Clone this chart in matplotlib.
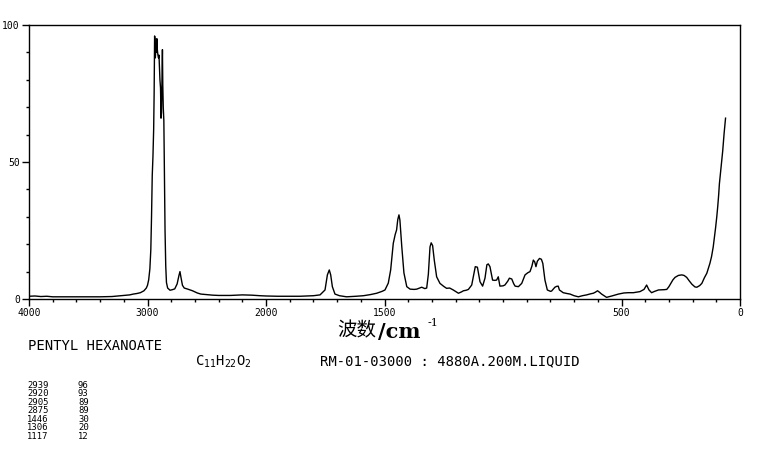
import numpy as np
import matplotlib
matplotlib.use("Agg")
import matplotlib.pyplot as plt

# ---- data ----
wavenumber = [4000, 3950, 3900, 3850, 3800, 3700, 3600, 3500, 3400, 3300, 3250, 3200, 3150, 3120,
              3090, 3060, 3030, 3010, 3000, 2990, 2980, 2972, 2966, 2960, 2954, 2948, 2944, 2940,
              2937, 2934, 2930, 2926, 2921, 2917, 2912, 2907, 2903, 2899, 2895, 2890, 2886, 2882,
              2877, 2874, 2871, 2867, 2862, 2857, 2852, 2846, 2840, 2830, 2810, 2790, 2770, 2750,
              2735, 2726, 2718, 2705, 2690, 2660, 2620, 2580, 2550, 2500, 2450, 2400, 2300, 2200,
              2120, 2050, 2000, 1950, 1900, 1857, 1800, 1772, 1751, 1741, 1733, 1727, 1720, 1709,
              1690, 1660, 1620, 1589, 1560, 1533, 1510, 1498, 1484, 1474, 1463, 1455, 1449, 1444,
              1439, 1435, 1427, 1418, 1406, 1392, 1375, 1364, 1343, 1330, 1322, 1315, 1308, 1303,
              1297, 1290, 1280, 1266, 1250, 1238, 1225, 1210, 1195, 1188, 1175, 1167, 1155, 1146,
              1132, 1122, 1117, 1108, 1097, 1086, 1076, 1068, 1062, 1055, 1044, 1035, 1027, 1020,
              1013, 1000, 992, 980, 973, 963, 955, 949, 935, 921, 907, 895, 886, 878, 872, 866,
              861, 855, 846, 838, 832, 823, 813, 800, 795, 781, 774, 767, 762, 746, 730, 717, 700,
              682, 665, 647, 630, 619, 610, 601, 592, 584, 570, 563, 550, 541, 513, 490, 471, 450,
              422, 405, 398, 394, 389, 384, 373, 360, 344, 320, 309, 300, 292, 283, 274, 260, 246,
              236, 225, 214, 203, 190, 182, 170, 161, 150, 140, 127, 120, 113, 108, 103, 98, 94,
              90, 87, 80, 73, 67, 61]
intensity = [1.0, 1.1, 0.9, 1.0, 0.8, 0.8, 0.8, 0.8, 0.8, 0.9, 1.1, 1.3, 1.5, 1.8,
             2.0, 2.3, 3.0, 4.0, 5.0, 7.0, 11, 18, 30, 45, 52, 62, 75, 96,
             95, 88, 91, 90, 95, 91, 89, 88, 89, 84, 80, 77, 66, 68,
             82, 91, 78, 70, 65, 45, 25, 12, 6, 4.0, 3.2, 3.4, 3.7, 5.5,
             8.5, 10.0, 8.0, 5.0, 4.0, 3.6, 3.0, 2.2, 1.8, 1.6, 1.4, 1.3, 1.3, 1.5,
             1.4, 1.2, 1.1, 1.0, 1.0, 1.0, 1.2, 1.5, 3.3, 8.8, 10.6, 8.8, 4.5, 1.8,
             1.2, 0.8, 1.0, 1.2, 1.6, 2.1, 2.8, 3.3, 5.8, 10.6, 20.3, 23.5, 25.2, 29,
             30.7, 28.8, 19, 9.5, 4.5, 3.6, 3.5, 3.6, 4.3, 3.8, 4.0, 9, 19, 20.5,
             19.5, 14.2, 8.1, 5.7, 4.6, 3.9, 4.0, 3.3, 2.5, 2.1, 2.6, 3.0, 3.2, 3.5,
             5.1, 9.5, 11.8, 11.6, 6.3, 4.7, 7.6, 12.5, 12.8, 11.8, 6.9, 6.8, 6.9, 8.1,
             4.7, 4.8, 5.1, 6.5, 7.6, 7.3, 5.6, 4.7, 4.5, 5.7, 8.8, 9.6, 10, 12, 14.2, 13.5,
             11.8, 13.8, 14.8, 14.5, 13, 6.9, 3.3, 2.8, 2.9, 4.3, 4.6, 4.7, 3.3, 2.3, 2.0, 1.8, 1.2,
             0.8, 1.2, 1.5, 1.9, 2.1, 2.5, 3.0, 2.4, 1.8, 1.0, 0.6, 0.9, 1.1, 1.8, 2.2, 2.3, 2.3,
             2.7, 3.5, 4.5, 5.1, 4.2, 3.3, 2.3, 2.8, 3.3, 3.4, 3.5, 4.5, 5.7, 7.0, 7.9, 8.6, 8.8,
             8.6, 7.9, 6.6, 5.4, 4.4, 4.3, 4.9, 5.7, 7.8, 9.4, 13, 15.5, 19, 22.5, 26, 30, 33.7,
             38, 42, 48, 54, 60.5, 66]

x_major = [4000, 3000, 2000, 1500, 500, 0]
x_major_labels = ["4000", "3000", "2000", "1500", "500", "0"]
y_major = [0, 50, 100]
y_major_labels = ["0", "50", "100"]

peak_pos = ["2939", "2920", "2905", "2875", "1446", "1306", "1117"]
peak_int = ["96", "93", "89", "89", "30", "20", "12"]

title = "PENTYL HEXANOATE"
formula = r"$\mathregular{C_{11}H_{22}O_{2}}$"
sample = "RM-01-03000 : 4880A.200M.LIQUID"

# ---- figure ----
W, H = 765, 470
fig = plt.figure(figsize=(W / 100, H / 100), dpi=100)
ax = fig.add_axes([29 / W, 1 - 299 / H, (740 - 29) / W, (299 - 25) / H])


def fwd(w):
    w = np.asarray(w, dtype=float)
    return np.where(w > 2000, 2000 + (w - 2000) / 2.0, w)


def inv(u):
    u = np.asarray(u, dtype=float)
    return np.where(u > 2000, 2000 + (u - 2000) * 2.0, u)


ax.set_xscale("function", functions=(fwd, inv))
ax.plot(wavenumber, intensity, color="black", lw=1.0)
ax.set_xlim(4000, 0)
ax.set_ylim(0, 100)

mono = "DejaVu Sans Mono"
ax.set_xticks(x_major)
ax.set_xticklabels(x_major_labels, fontfamily=mono, fontsize=7)
minor_x = list(range(4000, 2000, -200)) + list(range(2000, 0, -100))
ax.set_xticks([m for m in minor_x if m not in x_major], minor=True)
ax.set_yticks(y_major)
ax.set_yticklabels(y_major_labels, fontfamily=mono, fontsize=7)
ax.set_yticks(list(range(10, 100, 10)), minor=True)
ax.tick_params(axis="both", which="major", direction="out", length=5, width=1, pad=1.5)
ax.tick_params(axis="both", which="minor", direction="out", length=2.5, width=1)
for s in ax.spines.values():
    s.set_linewidth(1.0)

# axis label
fig.text(337 / W, 1 - 331 / H, "波数", family=["Noto Sans CJK SC", "DejaVu Sans"],
         fontsize=14, ha="left", va="center")
fig.text(378 / W, 1 - 332 / H, "/cm", family=["DejaVu Serif"], fontweight="bold",
         fontsize=15, ha="left", va="center")
fig.text(428 / W, 1 - 323 / H, "-1", family=["DejaVu Serif"], fontsize=8,
         ha="left", va="center")

# annotations
fig.text(28 / W, 1 - 346 / H, title, family=mono, fontsize=10, ha="left", va="center")
fig.text(195 / W, 1 - 362 / H, formula, family=mono, fontsize=10, ha="left", va="center")
fig.text(320 / W, 1 - 361 / H, sample, family=mono, fontsize=10, ha="left", va="center")

for i, (p, v) in enumerate(zip(peak_pos, peak_int)):
    yy = 385 + i * 8.6
    fig.text(27 / W, 1 - yy / H, p, family=mono, fontsize=6.4, ha="left", va="center")
    fig.text(78 / W, 1 - yy / H, v, family=mono, fontsize=6.4, ha="left", va="center")

fig.savefig("out.png", dpi=100, facecolor="white")
